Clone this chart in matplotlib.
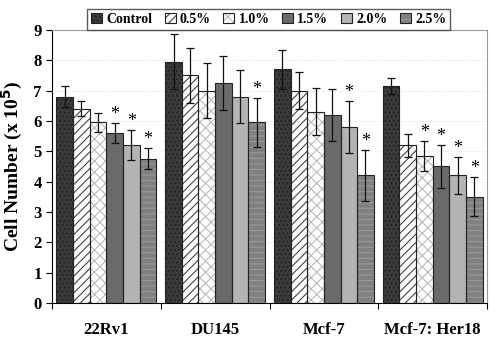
import numpy as np
import matplotlib.pyplot as plt
from matplotlib.patches import Patch

plt.rcParams['font.family'] = ['Liberation Serif', 'DejaVu Serif']
plt.rcParams['font.weight'] = 'bold'
plt.rcParams['hatch.linewidth'] = 0.8

cell_lines = ['22Rv1', 'DU145', 'Mcf-7', 'Mcf-7: Her18']
doses = ['Control', '0.5%', '1.0%', '1.5%', '2.0%', '2.5%']

means = [
    [6.8, 7.95, 7.7, 7.15],   # Control
    [6.4, 7.5, 7.0, 5.2],     # 0.5%
    [5.95, 7.0, 6.3, 4.85],   # 1.0%
    [5.6, 7.25, 6.2, 4.5],    # 1.5%
    [5.2, 6.8, 5.8, 4.2],     # 2.0%
    [4.75, 5.95, 4.2, 3.5],   # 2.5%
]
errors = [
    [0.35, 0.9, 0.65, 0.25],
    [0.25, 0.9, 0.6, 0.38],
    [0.32, 0.9, 0.77, 0.5],
    [0.33, 0.9, 0.85, 0.72],
    [0.5, 0.88, 0.85, 0.6],
    [0.35, 0.8, 0.85, 0.64],
]
# significance stars (dose index, group index)
stars = [(3, 0), (4, 0), (5, 0), (5, 1), (4, 2), (5, 2),
         (2, 3), (3, 3), (4, 3), (5, 3)]

colors = ['#3a3a3a', 'white', 'white', '#6a6a6a', '#b4b4b4', '#808080']
hatches = ['....', '////', 'xxx', '', '', '---']
hatch_cols = ['#222222', '#444444', '#bbbbbb', '#6a6a6a', '#b4b4b4', '#999999']

fig = plt.figure(figsize=(4.9, 3.47), dpi=100)
ax = fig.add_axes([0.106, 0.127, 0.888, 0.787])

x = np.arange(len(cell_lines))
w = 0.153
handles = []
for i, d in enumerate(doses):
    pos = x - 2.5 * w + i * w
    ax.bar(pos, means[i], w, color=colors[i], hatch=hatches[i],
           edgecolor=hatch_cols[i], linewidth=0, zorder=2)
    ax.bar(pos, means[i], w, color='none', edgecolor='#222222',
           linewidth=0.8, zorder=3)
    ax.errorbar(pos, means[i], yerr=errors[i], fmt='none', ecolor='#111111',
                elinewidth=0.9, capsize=3, capthick=0.9, zorder=4)
    handles.append((Patch(facecolor=colors[i], hatch=hatches[i],
                          edgecolor=hatch_cols[i], linewidth=0),
                    Patch(facecolor='none', edgecolor='#222222', linewidth=0.8)))

for i, g in stars:
    ax.text(x[g] - 2.5 * w + i * w, means[i][g] + errors[i][g], '*',
            ha='center', va='bottom', fontsize=13, fontweight='normal')

ax.set_xlim(-0.5, 3.5)
ax.set_ylim(0, 9)
ax.set_yticks(range(10))
ax.set_xticks([-0.5, 0.5, 1.5, 2.5, 3.5])
ax.set_xticklabels([])
ax.tick_params(axis='x', length=4, direction='out')
for gi, name in enumerate(cell_lines):
    ax.text(x[gi], -0.9, name, ha='center', va='center', fontsize=12,
            fontweight='bold')
ax.tick_params(axis='y', labelsize=12, length=4)
for lab in ax.get_yticklabels():
    lab.set_fontweight('bold')
ax.set_ylabel('Cell Number (x 10$^{\\mathbf{5}}$)', fontsize=14,
              fontweight='bold', labelpad=6)
for s in ['top', 'right']:
    ax.spines[s].set_color('#999999')
ax.yaxis.grid(True, linestyle=':', color='#dddddd', linewidth=0.6, zorder=0)

leg = fig.legend(handles, doses, loc='upper center',
                 bbox_to_anchor=(0.548, 0.995), ncol=6,
                 fontsize=10, frameon=True, fancybox=False, edgecolor='#333333',
                 handlelength=0.8, handleheight=0.8, handletextpad=0.3,
                 columnspacing=0.9, borderpad=0.3)
leg.get_frame().set_linewidth(1.0)

fig.savefig('out.png', dpi=100)
